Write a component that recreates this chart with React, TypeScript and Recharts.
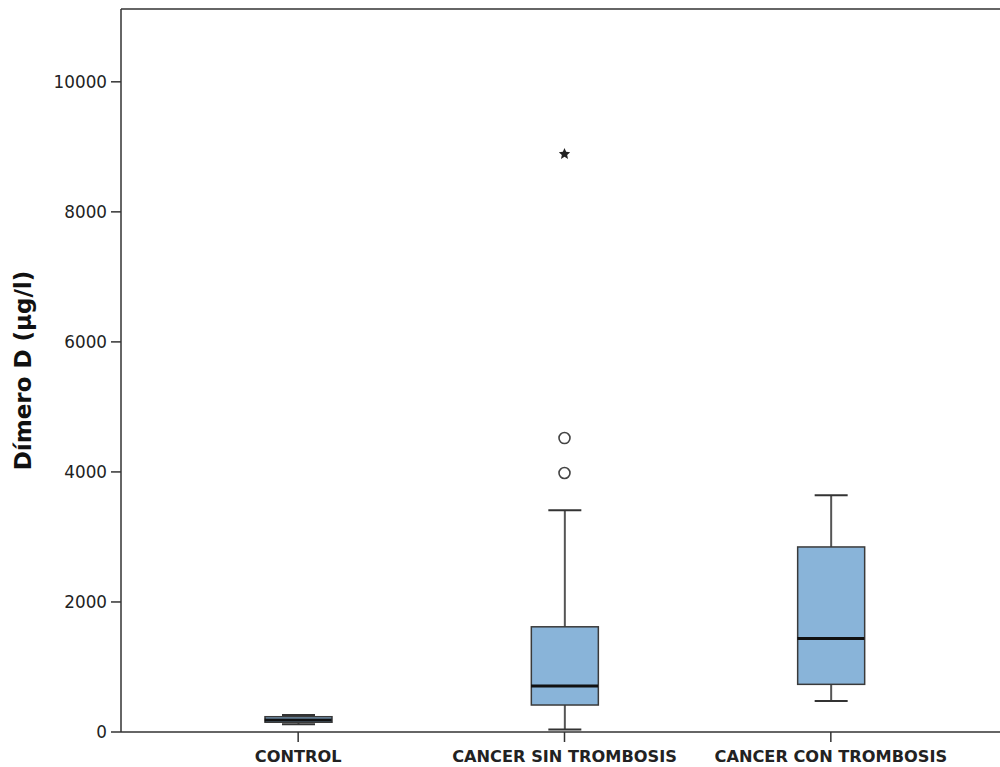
import React from 'react';
import { ComposedChart, Bar, Scatter, XAxis, YAxis, ReferenceLine } from 'recharts';

const categories = ['CONTROL', 'CANCER SIN TROMBOSIS', 'CANCER CON TROMBOSIS'];
const mins = [120, 40, 476];
const q1s = [150, 415, 733];
const medians = [185, 707, 1439];
const q3s = [235, 1618, 2846];
const maxs = [260, 3410, 3640];
const outliersA: (number | null)[] = [null, 4521, null];
const outliersB: (number | null)[] = [null, 3983, null];
const extremes: (number | null)[] = [null, 8889, null];
const yTicks = [0, 2000, 4000, 6000, 8000, 10000];
const yMax = 11120;

const data = categories.map((name, i) => ({
  name,
  min: mins[i],
  q1: q1s[i],
  med: medians[i],
  q3: q3s[i],
  max: maxs[i],
  outA: outliersA[i],
  outB: outliersB[i],
  ext: extremes[i],
}));

const BOX_W = 67;
const CAP_W = 33;

const WhiskerShape = (props: any) => {
  const { x, y, width, height } = props;
  if (x == null || y == null) return null;
  const cx = x + width / 2;
  const top = Math.min(y, y + height);
  const bot = Math.max(y, y + height);
  return (
    <g>
      <line x1={cx} x2={cx} y1={top} y2={bot} stroke="#555" strokeWidth={2} />
      <line x1={cx - CAP_W / 2} x2={cx + CAP_W / 2} y1={top} y2={top} stroke="#333" strokeWidth={2} />
      <line x1={cx - CAP_W / 2} x2={cx + CAP_W / 2} y1={bot} y2={bot} stroke="#333" strokeWidth={2} />
    </g>
  );
};

const BoxShape = (props: any) => {
  const { x, y, width, height } = props;
  if (x == null || y == null) return null;
  const top = Math.min(y, y + height);
  const h = Math.abs(height);
  return <rect x={x} y={top} width={width} height={h} fill="#89b4d9" stroke="#3a3a3a" strokeWidth={1.5} />;
};

const makeShape = (key: string, kind: 'median' | 'circle' | 'star') => (props: any) => {
  const { cx, cy, payload } = props;
  if (!payload || payload[key] == null || cx == null || cy == null || isNaN(cy)) return <g />;
  if (kind === 'median') {
    return <line x1={cx - BOX_W / 2} x2={cx + BOX_W / 2} y1={cy} y2={cy} stroke="#111" strokeWidth={3} />;
  }
  if (kind === 'circle') {
    return <circle cx={cx} cy={cy} r={5.5} fill="none" stroke="#444" strokeWidth={1.6} />;
  }
  const pts: string[] = [];
  for (let k = 0; k < 10; k++) {
    const r = k % 2 === 0 ? 6 : 2.8;
    const a = (Math.PI / 5) * k - Math.PI / 2;
    pts.push(`${cx + r * Math.cos(a)},${cy + r * Math.sin(a)}`);
  }
  return <polygon points={pts.join(' ')} fill="#222" />;
};

const YLabel = (props: any) => {
  const vb = props.viewBox || { x: 0, y: 0, width: 121, height: 723 };
  const x = vb.x + 23;
  const y = vb.y + vb.height / 2;
  return (
    <text
      x={x}
      y={y}
      transform={`rotate(-90, ${x}, ${y})`}
      textAnchor="middle"
      dominantBaseline="central"
      fontFamily="DejaVu Sans"
      fontWeight="bold"
      fontSize={23}
      fill="#111"
    >
      Dímero D (µg/l)
    </text>
  );
};

export default function App() {
  return (
    <div style={{ position: 'absolute', left: 0, top: 0, width: 1000, height: 767, overflow: 'hidden', background: '#fff' }}>
      <ComposedChart
        width={1010}
        height={767}
        data={data}
        margin={{ top: 9, right: 2, bottom: 0, left: 0 }}
      >
        <XAxis
          dataKey="name"
          height={35}
          padding={{ left: 44, right: 44 }}
          axisLine={{ stroke: '#333', strokeWidth: 1.5 }}
          tickLine={{ stroke: '#333', strokeWidth: 1.5 }}
          tickSize={10}
          tickMargin={8}
          tick={{ fill: '#222', fontSize: 16.2, fontWeight: 'bold', fontFamily: 'DejaVu Sans' }}
          interval={0}
        />
        <XAxis xAxisId="b" dataKey="name" hide padding={{ left: 44, right: 44 }} />
        <YAxis
          type="number"
          domain={[0, yMax]}
          ticks={yTicks}
          width={121}
          allowDataOverflow
          axisLine={{ stroke: '#333', strokeWidth: 1.5 }}
          tickLine={{ stroke: '#333', strokeWidth: 1.5 }}
          tickSize={10}
          tickMargin={4}
          tick={{ fill: '#222', fontSize: 16.8, fontFamily: 'DejaVu Sans' }}
          label={<YLabel />}
        />
        <ReferenceLine y={yMax} stroke="#333" strokeWidth={1.5} ifOverflow="visible" />
        <Bar
          dataKey={(d: any) => [d.min, d.max]}
          barSize={BOX_W}
          shape={<WhiskerShape />}
          isAnimationActive={false}
        />
        <Bar
          xAxisId="b"
          dataKey={(d: any) => [d.q1, d.q3]}
          barSize={BOX_W}
          shape={<BoxShape />}
          isAnimationActive={false}
        />
        <Scatter dataKey="med" shape={makeShape('med', 'median')} isAnimationActive={false} />
        <Scatter dataKey="outA" shape={makeShape('outA', 'circle')} isAnimationActive={false} />
        <Scatter dataKey="outB" shape={makeShape('outB', 'circle')} isAnimationActive={false} />
        <Scatter dataKey="ext" shape={makeShape('ext', 'star')} isAnimationActive={false} />
      </ComposedChart>
    </div>
  );
}
